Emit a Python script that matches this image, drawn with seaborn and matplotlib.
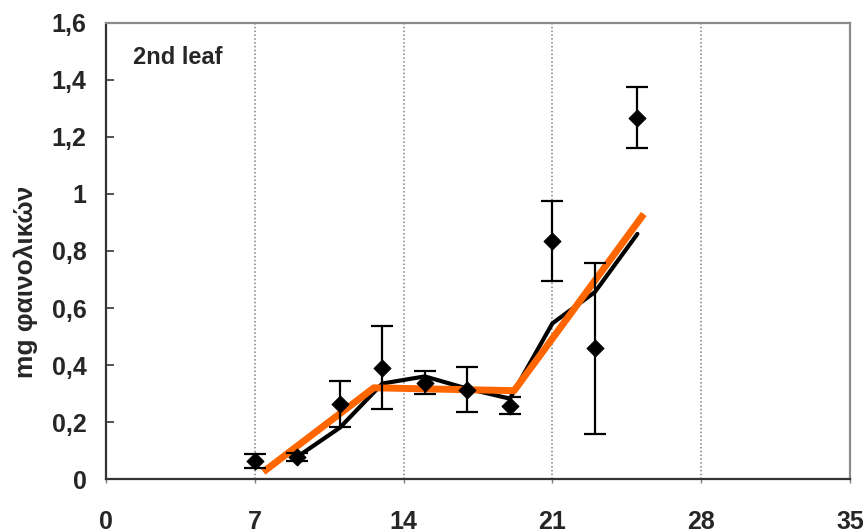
import matplotlib
matplotlib.use("Agg")
import matplotlib.pyplot as plt
import matplotlib.ticker as mticker
import seaborn as sns
import pandas as pd

# measured points (day, mg) with standard error
days = [7, 9, 11, 13, 15, 17, 19, 21, 23, 25]
phenolics = [0.063, 0.078, 0.264, 0.391, 0.338, 0.314, 0.257, 0.835, 0.458, 1.268]
errors = [0.025, 0.015, 0.08, 0.145, 0.04, 0.08, 0.03, 0.14, 0.30, 0.107]

# moving-average style black line
trend_days = [9, 11, 13, 15, 17, 19, 21, 23, 25]
trend_vals = [0.078, 0.18, 0.335, 0.36, 0.317, 0.282, 0.546, 0.656, 0.86]

# piecewise fit (orange)
fit_days = [7.4, 12.6, 19.2, 25.3]
fit_vals = [0.025, 0.32, 0.31, 0.93]

xticks = [0, 7, 14, 21, 28, 35]
yticks = [0, 0.2, 0.4, 0.6, 0.8, 1.0, 1.2, 1.4, 1.6]

sns.set_style("white")
plt.rcParams["font.family"] = ["Liberation Sans", "DejaVu Sans"]
plt.rcParams["font.weight"] = "bold"

fig = plt.figure(figsize=(8.66, 5.32), dpi=100)
ax = fig.add_axes([0.1224, 0.0996, 0.8591, 0.8572])

for d in [7, 14, 21, 28]:
    ax.axvline(d, color="#808080", linestyle=(0, (1, 1.5)), linewidth=1.1, zorder=0)

df_trend = pd.DataFrame({"day": trend_days, "val": trend_vals})
df_fit = pd.DataFrame({"day": fit_days, "val": fit_vals})
sns.lineplot(data=df_trend, x="day", y="val", color="black", linewidth=3, ax=ax, zorder=2)
sns.lineplot(data=df_fit, x="day", y="val", color="#FF6600", linewidth=5, ax=ax, zorder=3,
             solid_capstyle="butt")

ax.errorbar(days, phenolics, yerr=errors, fmt="none", ecolor="black",
            elinewidth=1.6, capsize=8, capthick=1.6, zorder=4)
df_pts = pd.DataFrame({"day": days, "val": phenolics})
sns.scatterplot(data=df_pts, x="day", y="val", marker="D", s=75, color="black",
                edgecolor="black", ax=ax, zorder=5)

ax.set_xlim(0, 35)
ax.set_ylim(0, 1.6)
ax.set_xticks(xticks)
ax.set_yticks(yticks)
ax.yaxis.set_major_formatter(mticker.FuncFormatter(lambda v, p: ("%g" % round(v, 1)).replace(".", ",")))

ax.tick_params(axis="y", direction="in", length=6, width=1.2, color="#333333",
               labelsize=18, pad=14, left=True)
ax.tick_params(axis="x", direction="out", length=3, width=1, color="#808080",
               labelsize=18, pad=19, bottom=True)
for lab in ax.get_xticklabels() + ax.get_yticklabels():
    lab.set_fontweight("bold")

ax.set_xlabel("")
ax.set_ylabel("mg φαινολικών", fontsize=19, fontweight="bold")
ax.yaxis.set_label_coords(-0.092, 0.432)

ax.spines["left"].set_color("#333333")
ax.spines["bottom"].set_color("#333333")
ax.spines["top"].set_color("#8c8c8c")
ax.spines["right"].set_color("#8c8c8c")
for s in ax.spines.values():
    s.set_linewidth(1.6)

ax.text(0.036, 0.925, "2nd leaf", transform=ax.transAxes, fontsize=17,
        fontweight="bold", va="center", ha="left")

fig.savefig("out.png", dpi=100)
